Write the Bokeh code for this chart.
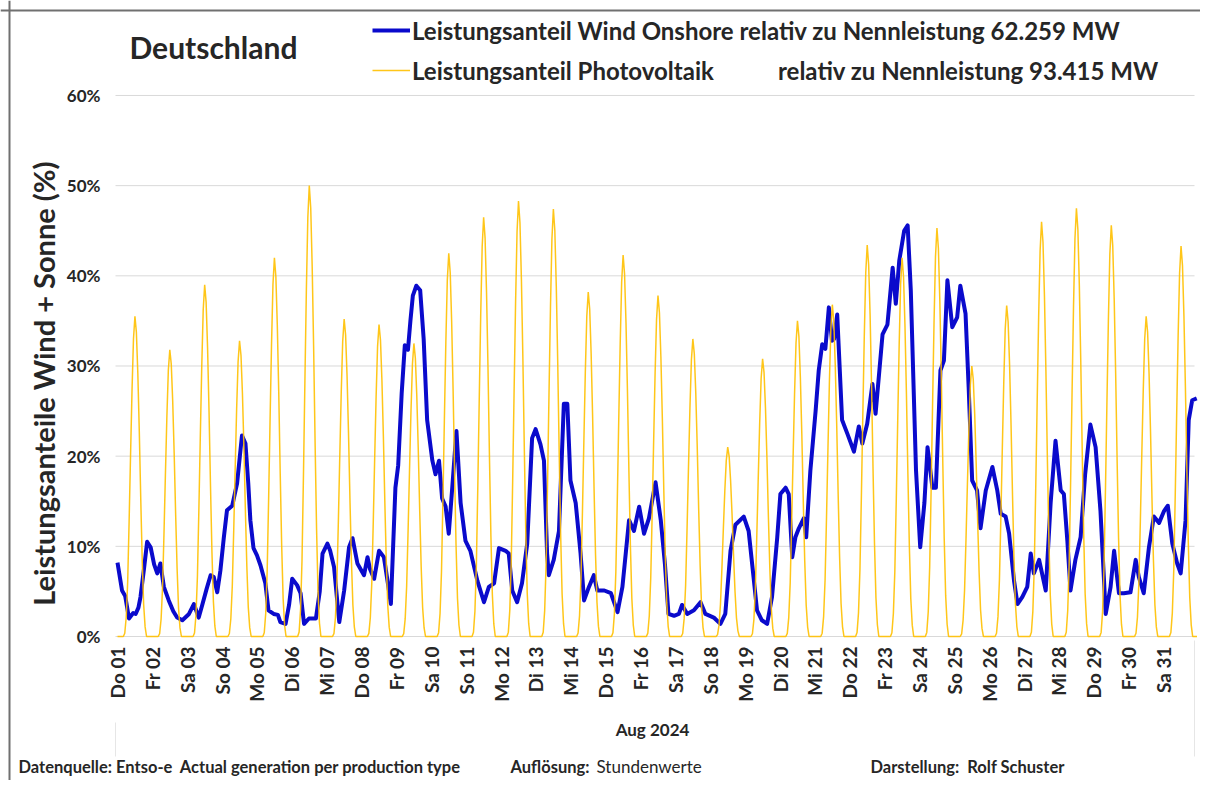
import math
from bokeh.plotting import figure
from bokeh.models import Range1d, Label, Legend, LegendItem, Span
from bokeh.core.properties import value
from bokeh.embed import file_html
from bokeh.resources import INLINE

# ---------------- data ----------------
day_labels = ["Do 01", "Fr 02", "Sa 03", "So 04", "Mo 05", "Di 06", "Mi 07", "Do 08",
              "Fr 09", "Sa 10", "So 11", "Mo 12", "Di 13", "Mi 14", "Do 15", "Fr 16",
              "Sa 17", "So 18", "Mo 19", "Di 20", "Mi 21", "Do 22", "Fr 23", "Sa 24",
              "So 25", "Mo 26", "Di 27", "Mi 28", "Do 29", "Fr 30", "Sa 31"]
y_ticks = [0, 10, 20, 30, 40, 50, 60]
y_tick_labels = ["0%", "10%", "20%", "30%", "40%", "50%", "60%"]

# Wind onshore share (%), sampled at fractional day offsets from Aug 1 00:00
wind_day = [0.00, 0.05, 0.13, 0.22, 0.33, 0.45, 0.52, 0.60, 0.66, 0.76, 0.85, 0.95,
            1.05, 1.14, 1.23, 1.33, 1.47, 1.60, 1.71, 1.86, 2.05, 2.19, 2.33, 2.43,
            2.55, 2.67, 2.76, 2.86, 2.95, 3.05, 3.14, 3.29, 3.43, 3.57, 3.67, 3.75,
            3.81, 3.90, 4.00, 4.10, 4.24, 4.33, 4.48, 4.60, 4.67, 4.82, 4.92, 5.01,
            5.15, 5.25, 5.35, 5.49, 5.69, 5.80, 5.88, 6.02, 6.10, 6.21, 6.30, 6.36,
            6.50, 6.64, 6.74, 6.88, 7.07, 7.17, 7.24, 7.36, 7.50, 7.64, 7.75, 7.84,
            7.97, 8.05, 8.15, 8.24, 8.33, 8.40, 8.47, 8.57, 8.68, 8.78, 8.88, 9.03,
            9.12, 9.22, 9.31, 9.41, 9.50, 9.60, 9.72, 9.84, 9.98, 10.12, 10.32, 10.51,
            10.65, 10.80, 10.94, 11.13, 11.22, 11.32, 11.46, 11.60, 11.75, 11.89, 11.99, 12.13,
            12.23, 12.32, 12.37, 12.51, 12.66, 12.80, 12.90, 12.99, 13.14, 13.28, 13.38, 13.52,
            13.66, 13.76, 13.96, 14.15, 14.34, 14.48, 14.67, 14.81, 14.96, 15.10, 15.24, 15.43,
            15.58, 15.70, 15.80, 15.96, 16.10, 16.19, 16.34, 16.53, 16.72, 16.86, 17.10, 17.29,
            17.43, 17.58, 17.72, 17.96, 18.10, 18.24, 18.34, 18.48, 18.63, 18.77, 18.92, 19.01,
            19.16, 19.25, 19.35, 19.44, 19.54, 19.68, 19.75, 19.87, 20.02, 20.11, 20.21, 20.30,
            20.40, 20.49, 20.55, 20.64, 20.78, 20.93, 21.12, 21.26, 21.36, 21.50, 21.65, 21.74,
            21.94, 22.08, 22.23, 22.32, 22.42, 22.56, 22.66, 22.75, 22.90, 23.02, 23.14, 23.23,
            23.37, 23.47, 23.60, 23.70, 23.80, 23.94, 24.08, 24.17, 24.32, 24.41, 24.51, 24.65,
            24.75, 24.90, 25.09, 25.23, 25.33, 25.47, 25.57, 25.71, 25.81, 25.95, 26.09, 26.19,
            26.28, 26.43, 26.62, 26.76, 26.90, 27.05, 27.14, 27.24, 27.33, 27.47, 27.62, 27.75,
            27.90, 28.05, 28.19, 28.34, 28.48, 28.58, 28.72, 28.86, 29.05, 29.20, 29.29, 29.43,
            29.58, 29.72, 29.87, 30.01, 30.12, 30.25, 30.39, 30.49, 30.63, 30.72, 30.82, 30.95]
wind_pct = [8.2, 7.0, 5.1, 4.5, 2.0, 2.6, 2.5, 3.2, 4.4, 7.5, 10.5, 9.9,
            8.0, 7.0, 8.1, 5.5, 4.0, 2.8, 2.1, 1.8, 2.5, 3.6, 2.1, 3.5,
            5.2, 6.8, 6.6, 4.9, 7.3, 11.0, 14.0, 14.5, 17.0, 22.3, 21.4, 17.0,
            12.9, 9.8, 9.0, 7.9, 5.9, 2.9, 2.5, 2.4, 1.6, 1.4, 3.5, 6.4,
            5.7, 4.8, 1.4, 2.0, 2.0, 5.0, 9.2, 10.3, 9.5, 7.7, 4.0, 1.6,
            5.1, 9.9, 10.9, 8.1, 6.8, 8.8, 7.5, 6.4, 9.5, 8.8, 6.0, 3.6,
            16.5, 19.0, 27.0, 32.3, 31.8, 35.0, 37.8, 38.9, 38.4, 33.0, 24.0, 19.5,
            18.0, 19.5, 15.3, 14.4, 11.4, 16.5, 22.8, 14.8, 10.6, 9.5, 6.2, 3.8,
            5.5, 5.9, 9.8, 9.5, 9.2, 5.1, 3.8, 5.9, 10.3, 22.0, 23.0, 21.3,
            19.5, 9.2, 6.8, 8.5, 11.7, 25.8, 25.8, 17.3, 14.8, 9.2, 4.0, 5.5,
            6.8, 5.1, 5.1, 4.8, 2.7, 5.5, 12.9, 11.7, 14.4, 11.4, 13.1, 17.1,
            12.9, 8.0, 2.5, 2.3, 2.5, 3.5, 2.5, 2.9, 3.8, 2.5, 2.1, 1.4,
            2.5, 9.5, 12.4, 13.3, 11.7, 6.6, 2.9, 1.8, 1.4, 4.4, 11.0, 15.8,
            16.5, 15.8, 8.8, 11.0, 12.0, 13.1, 11.0, 18.4, 25.0, 29.5, 32.4, 31.9,
            36.5, 32.8, 33.0, 35.7, 24.0, 22.5, 20.5, 23.3, 21.4, 23.6, 28.0, 24.7,
            33.5, 34.6, 40.9, 36.9, 41.7, 45.0, 45.6, 38.4, 18.4, 9.9, 14.8, 21.0,
            16.5, 16.5, 29.5, 30.6, 39.5, 34.3, 35.4, 38.9, 35.8, 27.6, 17.3, 16.2,
            12.0, 16.2, 18.8, 16.2, 13.6, 13.3, 11.4, 6.2, 3.6, 4.4, 5.5, 9.2,
            7.0, 8.5, 5.1, 14.8, 21.7, 16.2, 15.8, 10.6, 5.1, 8.5, 11.0, 18.0,
            23.5, 21.0, 13.9, 2.5, 5.5, 9.5, 4.8, 4.8, 4.9, 8.5, 6.6, 4.8,
            9.9, 13.3, 12.6, 13.9, 14.5, 10.3, 8.1, 7.0, 12.9, 24.0, 26.2, 26.4]

# Photovoltaic share: daily peak (%) read per day, and the hourly shape of a day
pv_daily_peak = [35.5, 31.8, 39.0, 32.8, 42.0, 50.0, 35.2, 34.6, 32.5, 42.5, 46.5, 48.3,
                 47.4, 38.2, 42.3, 37.8, 33.0, 21.0, 30.8, 35.0, 36.8, 43.4, 42.0, 45.3,
                 30.0, 36.7, 46.0, 47.5, 45.6, 35.5, 43.3]
pv_hour_profile = [0.0, 0.0, 0.0, 0.0, 0.0, 0.01, 0.06, 0.17, 0.36, 0.57, 0.77, 0.93,
                   1.0, 0.95, 0.82, 0.64, 0.43, 0.24, 0.10, 0.03, 0.0, 0.0, 0.0, 0.0]

pv_t = [d + h / 24.0 for d in range(len(pv_daily_peak)) for h in range(24)]
pv_v = [pv_daily_peak[d] * pv_hour_profile[h] for d in range(len(pv_daily_peak)) for h in range(24)]

# ---------------- geometry: the frame fills the whole canvas ----------------
W, H = 1200, 780
SX, SY = 34.87, 9.017     # px per day, px per percent
X0 = -117 / SX            # day 0 at x 117
Y1 = 636 / SY             # 0 % at y 636
X1 = X0 + W / SX
Y0 = Y1 - H / SY

def px(cx):
    return X0 + cx / SX

def py(cy):
    return Y1 - cy / SY

FONT = "Lato"
TXT = "#262626"

p = figure(width=W, height=H, output_backend="svg", toolbar_location=None,
           x_range=Range1d(X0, X1), y_range=Range1d(Y0, Y1),
           min_border=0, x_axis_type=None, y_axis_type=None)
p.outline_line_color = None
p.xgrid.visible = False
p.ygrid.visible = False
p.background_fill_color = "white"
p.border_fill_color = "white"

# outer frame of the chart (left and top edges visible)
p.add_layout(Span(location=px(9), dimension="height", line_color="#707070", line_width=2))
p.add_layout(Span(location=py(10), dimension="width", line_color="#707070", line_width=2))

# horizontal gridlines
p.segment(x0=[px(115)] * len(y_ticks), x1=[px(1194)] * len(y_ticks), y0=y_ticks, y1=y_ticks,
          line_color="#d9d9d9", line_width=1)
# faint category-axis edge lines
p.segment(x0=[px(115), px(1194)], x1=[px(115), px(1194)], y0=[py(722), py(640)], y1=[py(756), py(756)],
          line_color="#e6e6e6", line_width=1)

# y tick labels
p.text(x=[px(100)] * len(y_ticks), y=y_ticks, text=y_tick_labels,
       text_font=value(FONT), text_font_style="bold", text_font_size="17px",
       text_color=TXT, text_align="right", text_baseline="middle")

# x tick labels (rotated)
p.text(x=list(range(len(day_labels))), y=[py(646)] * len(day_labels), text=day_labels,
       text_font=value(FONT), text_font_style="bold", text_font_size="19px",
       text_color=TXT, text_align="right", text_baseline="middle", angle=math.pi / 2)

# series
r_w = p.line(wind_day, wind_pct, line_color="#0A0ACC", line_width=4, line_join="round")
r_s = p.line(pv_t, pv_v, line_color="#FFC000", line_width=1.5, line_alpha=0.9)

# legend (location = bottom-left corner, measured from the canvas bottom)
legend = Legend(items=[
    LegendItem(label="Leistungsanteil Wind Onshore relativ zu Nennleistung 62.259 MW", renderers=[r_w]),
    LegendItem(label="Leistungsanteil Photovoltaik" + "\u00a0" * 11 + "relativ zu Nennleistung 93.415 MW",
               renderers=[r_s]),
], location=(372, H - 85))
legend.padding = 0
legend.margin = 0
legend.border_line_color = None
legend.background_fill_alpha = 0
legend.glyph_width = 38
legend.glyph_height = 30
legend.label_height = 30
legend.spacing = 10
legend.label_standoff = 2
legend.label_text_font = FONT
legend.label_text_font_style = "bold"
legend.label_text_font_size = "24px"
legend.label_text_color = TXT
p.add_layout(legend)

def add_label(text, cx, cy, size, style="bold", align="left", angle=0.0, color=TXT):
    p.add_layout(Label(x=px(cx), y=py(cy), text=text,
                       text_font=FONT, text_font_style=style, text_font_size=size,
                       text_color=color, text_align=align, text_baseline="middle",
                       angle=angle))

add_label("Deutschland", 129, 46, "30px")
add_label("Leistungsanteile Wind + Sonne (%)", 43, 383, "29px", align="center", angle=math.pi / 2)
add_label("Aug 2024", 652, 729, "17px", align="center")
add_label("Datenquelle: Entso-e\u00a0\u00a0Actual generation per production type", 18, 766, "16.5px")
add_label("Auflösung:", 510, 766, "16.5px")
add_label("Stundenwerte", 596, 766, "17px", style="normal")
add_label("Darstellung:\u00a0\u00a0Rolf Schuster", 870, 766, "16.5px")

open("out.html", "w").write(file_html(p, INLINE))
